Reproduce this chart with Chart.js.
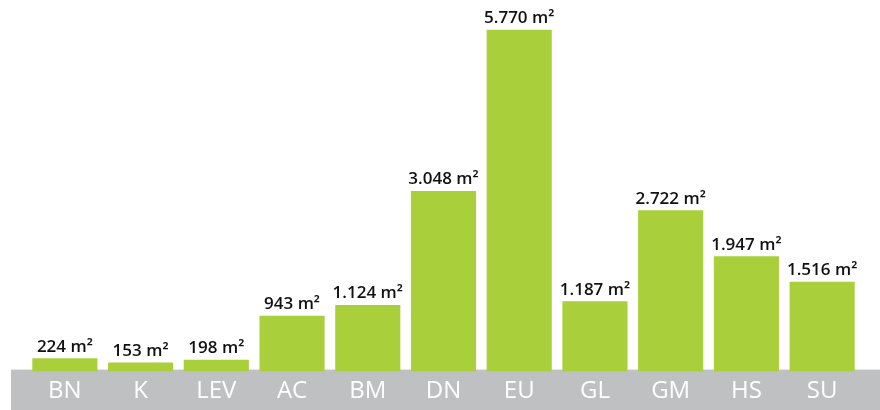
<!DOCTYPE html>
<html>
<head>
<meta charset="utf-8">
<script src="https://cdn.jsdelivr.net/npm/chart.js@4/dist/chart.umd.min.js"></script>
<style>
    html, body { margin: 0; padding: 0; background: #fff; }
    #wrap { width: 880px; height: 410px; position: relative; }
</style>
</head>
<body>
<div id="wrap"><canvas id="areaChart"></canvas></div>
<script>
const categories = ['BN', 'K', 'LEV', 'AC', 'BM', 'DN', 'EU', 'GL', 'GM', 'HS', 'SU'];
const areas = [224, 153, 198, 943, 1124, 3048, 5770, 1187, 2722, 1947, 1516];

const BAR_GREEN = '#a9cf3b';
const BAND_GREY = '#bfc0c2';

// 1234 -> "1.234"
function formatArea(v) {
    return String(v).replace(/\B(?=(\d{3})+(?!\d))/g, '.') + ' m\u00b2';
}

// grey strip behind the category labels, painted before the axis text
const bandPlugin = {
    id: 'band',
    beforeDraw(chart) {
        const ctx = chart.ctx;
        const top = chart.chartArea.bottom - 2;
        ctx.save();
        ctx.fillStyle = BAND_GREY;
        ctx.fillRect(11, top, chart.width - 11, chart.height - top);
        ctx.restore();
    }
};

// value text above each bar
const valueLabels = {
    id: 'valueLabels',
    afterDatasetsDraw(chart) {
        const ctx = chart.ctx;
        const meta = chart.getDatasetMeta(0);
        ctx.save();
        ctx.fillStyle = '#111111';
        ctx.font = '600 17px "Open Sans", sans-serif';
        ctx.textAlign = 'center';
        ctx.textBaseline = 'bottom';
        meta.data.forEach((bar, i) => {
            ctx.fillText(formatArea(areas[i]), bar.x, bar.y - 3);
        });
        ctx.restore();
    }
};

new Chart(document.getElementById('areaChart'), {
    type: 'bar',
    data: {
        labels: categories,
        datasets: [{
            data: areas,
            backgroundColor: BAR_GREEN,
            borderWidth: 0,
            categoryPercentage: 1,
            barPercentage: 0.86
        }]
    },
    options: {
        responsive: true,
        maintainAspectRatio: false,
        animation: false,
        layout: {
            padding: { left: 27, right: 20, top: 16, bottom: 0 }
        },
        plugins: {
            legend: { display: false },
            tooltip: { enabled: false }
        },
        scales: {
            x: {
                grid: { display: false, drawTicks: false },
                border: { display: false },
                ticks: {
                    color: '#ffffff',
                    padding: 6,
                    font: { family: '"Open Sans", sans-serif', size: 24, lineHeight: 1.1 }
                }
            },
            y: {
                display: false,
                min: 0,
                max: 6000
            }
        }
    },
    plugins: [bandPlugin, valueLabels]
});
</script>
</body>
</html>
